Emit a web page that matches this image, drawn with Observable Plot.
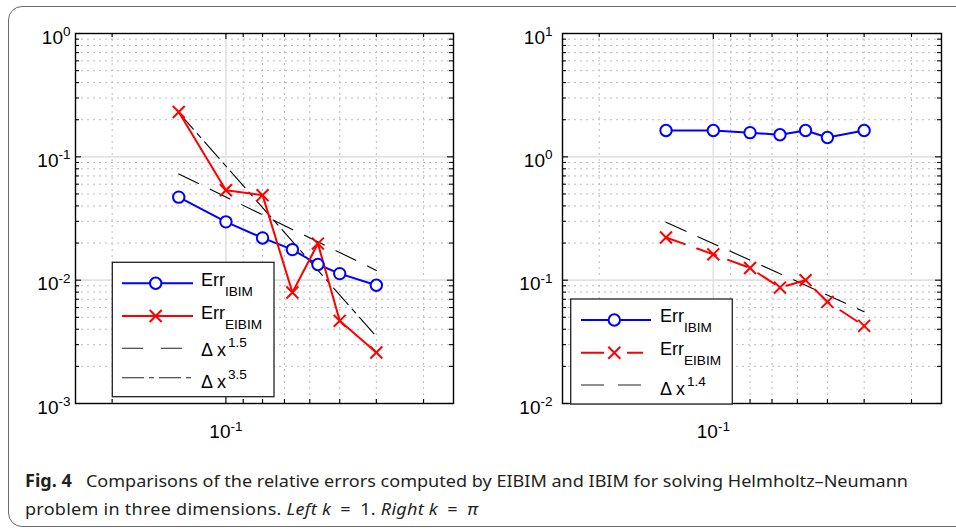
<!DOCTYPE html>
<html><head><meta charset="utf-8">
<script src="https://cdn.jsdelivr.net/npm/d3@7"></script>
<script src="https://cdn.jsdelivr.net/npm/@observablehq/plot@0.6"></script>
<style>
html,body{margin:0;padding:0;background:#fff;}
#page{position:relative;width:956px;height:529px;overflow:hidden;background:#fff;}
.panel{position:absolute;top:0;}
#card{position:absolute;left:8px;top:6px;width:1000px;height:521px;border:1.5px solid #6a6a6a;border-radius:14px;box-sizing:border-box;pointer-events:none;}
#caption{position:absolute;left:25px;top:467px;font-family:"Noto Sans",sans-serif;font-size:17px;line-height:28px;color:#231f20;white-space:nowrap;transform-origin:0 0;}
#caption .ln{display:inline-block;}
</style></head>
<body><div id="page">
<div id="left" class="panel" style="left:0px"></div>
<div id="right" class="panel" style="left:480px"></div>
<div id="caption"><span class="ln" id="l1"><b>Fig. 4</b>&nbsp;&nbsp; Comparisons of the relative errors computed by EIBIM and IBIM for solving Helmholtz–Neumann</span><br><span class="ln" id="l2">problem in three dimensions. <i>Left k</i>&ensp;=&ensp;1. <i>Right k</i>&ensp;=&ensp;<i>π</i></span></div>
<div id="card"></div>
</div>
<script>
// ---- data ----
const dx = [0.1333, 0.1, 0.08, 0.0667, 0.0571, 0.05, 0.04];
const errIBIM_k1  = [0.0471, 0.0297, 0.0220, 0.0177, 0.0134, 0.0113, 0.0091];
const errEIBIM_k1 = [0.231, 0.0536, 0.0489, 0.00794, 0.0198, 0.00468, 0.00259];
const errIBIM_kpi  = [1.634, 1.634, 1.57, 1.51, 1.634, 1.436, 1.634];
const errEIBIM_kpi = [0.222, 0.162, 0.1256, 0.0871, 0.100, 0.0667, 0.0426];
const ref15_x = [0.1333, 0.04], ref15_y = [0.0727, 0.0120];
const ref35_x = [0.1333, 0.04], ref35_y = [0.228, 0.0035];
const ref14_x = [0.1333, 0.04], ref14_y = [0.295, 0.0555];
const xDomain = [0.25, 0.025];
const xMajor = [0.1];
const xMinor = [0.2, 0.09, 0.08, 0.07, 0.06, 0.05, 0.04, 0.03];
const yLeftDomain = [1e-3, 1], yLeftMajor = [1e-3, 1e-2, 1e-1, 1];
const yRightDomain = [1e-2, 10], yRightMajor = [1e-2, 1e-1, 1, 10];
const minorMult = [2, 3, 4, 5, 6, 7, 8, 9];

const FONT = "'Liberation Sans', Arial, Helvetica, sans-serif";
const H = 370;
const BLUE = "#0000ff", RED = "#ff0000";

function minorOf(major) {
  const out = [];
  for (const m of major.slice(0, -1)) for (const k of minorMult) out.push(m * k);
  return out;
}
const sup = d => "10^" + Math.round(Math.log10(d));

function makePanel({width, marginLeft, marginRight, yDomain, yMajor, ibim, eibim, refs, redDash, yPad}) {
  const W = width - marginLeft - marginRight;
  const yMinor = minorOf(yMajor);
  const yInner = yMajor.slice(1, -1);
  const rows = dx.map((x, i) => ({x, ibim: ibim[i], eibim: eibim[i]}));
  const marks = [
    Plot.ruleY(yMinor, {y: d => d, stroke: "#bcbcbc", strokeDasharray: "2,4", strokeWidth: 1}),
    Plot.ruleX(xMinor, {x: d => d, stroke: "#bcbcbc", strokeDasharray: "2,4", strokeWidth: 1}),
    Plot.ruleY(yInner, {y: d => d, stroke: "#e2e2e2", strokeWidth: 1.6}),
    Plot.ruleX(xMajor, {x: d => d, stroke: "#e2e2e2", strokeWidth: 1.6}),
    // inner tick marks on all four sides
    Plot.tickX(xMinor, {x: d => d, insetTop: H - 4, stroke: "black", strokeWidth: 1.1}),
    Plot.tickX(xMinor, {x: d => d, insetBottom: H - 4, stroke: "black", strokeWidth: 1.1}),
    Plot.tickX(xMajor, {x: d => d, insetTop: H - 6, stroke: "black", strokeWidth: 1.1}),
    Plot.tickX(xMajor, {x: d => d, insetBottom: H - 6, stroke: "black", strokeWidth: 1.1}),
    Plot.tickY(yMinor, {y: d => d, insetRight: W - 4, stroke: "black", strokeWidth: 1.1}),
    Plot.tickY(yMinor, {y: d => d, insetLeft: W - 4, stroke: "black", strokeWidth: 1.1}),
    Plot.tickY(yMajor, {y: d => d, insetRight: W - 6, stroke: "black", strokeWidth: 1.1}),
    Plot.tickY(yMajor, {y: d => d, insetLeft: W - 6, stroke: "black", strokeWidth: 1.1}),
  ];
  for (const r of refs) {
    const pts = r.x.map((x, i) => ({x, y: r.y[i]}));
    marks.push(Plot.line(pts, {x: "x", y: "y", stroke: "black", strokeWidth: 1.1, strokeDasharray: r.dash}));
  }
  marks.push(
    Plot.line(rows, {x: "x", y: "ibim", stroke: BLUE, strokeWidth: 2}),
    Plot.line(rows, {x: "x", y: "eibim", stroke: RED, strokeWidth: 2, strokeDasharray: redDash}),
    Plot.dot(rows, {x: "x", y: "ibim", r: 5.7, stroke: BLUE, fill: "white", strokeWidth: 2}),
    Plot.dot(rows, {x: "x", y: "eibim", r: 5.5, symbol: "times", stroke: RED, strokeWidth: 2}),
    Plot.axisY({anchor: "left", ticks: yMajor, tickSize: 0, tickPadding: yPad, tickFormat: sup, fontSize: 19, dy: 4, label: null}),
    Plot.axisX({anchor: "bottom", ticks: xMajor, tickSize: 0, tickPadding: 21, tickFormat: sup, fontSize: 19, label: null}),
    Plot.frame({stroke: "black", strokeWidth: 1.4})
  );
  const svg = Plot.plot({
    width, height: 450, marginLeft, marginRight, marginTop: 33, marginBottom: 47,
    style: {background: "transparent", fontFamily: FONT, color: "black", overflow: "visible"},
    x: {type: "log", domain: xDomain, axis: null},
    y: {type: "log", domain: yDomain, axis: null},
    marks
  });
  // superscript exponents in tick labels
  d3.select(svg).selectAll('g[aria-label$="tick label"] text').each(function () {
    const [base, exp] = this.textContent.split("^");
    const s = d3.select(this).attr("font-size", 19).attr("font-family", FONT).attr("fill", "black");
    s.text(null);
    s.append("tspan").text(base);
    s.append("tspan").attr("dy", -7.5).attr("font-size", 13.5).text(exp);
  });
  return svg;
}

function legend(svg, box, items) {
  const g = d3.select(svg).append("g").attr("font-family", FONT).attr("fill", "black").attr("text-anchor", "start");
  g.append("rect").attr("x", box.x).attr("y", box.y).attr("width", box.w).attr("height", box.h)
    .attr("fill", "white").attr("stroke", "#222").attr("stroke-width", 1.3);
  for (const it of items) {
    g.append("line").attr("x1", it.x1).attr("x2", it.x2).attr("y1", it.y).attr("y2", it.y)
      .attr("stroke", it.color).attr("stroke-width", it.sw).attr("stroke-dasharray", it.dash || null);
    if (it.marker === "o") {
      g.append("circle").attr("cx", it.mx).attr("cy", it.y).attr("r", 5.7).attr("fill", "white")
        .attr("stroke", it.color).attr("stroke-width", 2);
    } else if (it.marker === "x") {
      g.append("path").attr("d", `M${it.mx - 6},${it.y - 6}L${it.mx + 6},${it.y + 6}M${it.mx - 6},${it.y + 6}L${it.mx + 6},${it.y - 6}`)
        .attr("stroke", it.color).attr("stroke-width", 2);
    }
    const t = g.append("text").attr("x", it.tx).attr("y", it.y + it.base).attr("font-size", 18).attr("text-anchor", "start");
    t.append("tspan").text(it.main);
    if (it.sub) t.append("tspan").attr("dy", 10).attr("font-size", 13.6).text(it.sub);
    if (it.sup) t.append("tspan").attr("dx", 2).attr("dy", -9).attr("font-size", 13.6).text(it.sup);
  }
}

const leftSvg = makePanel({
  width: 478, marginLeft: 75, marginRight: 25, yDomain: yLeftDomain, yMajor: yLeftMajor,
  ibim: errIBIM_k1, eibim: errEIBIM_k1, redDash: null, yPad: 5,
  refs: [{x: ref15_x, y: ref15_y, dash: "22,13"}, {x: ref35_x, y: ref35_y, dash: "22,6,5,6"}]
});
legend(leftSvg, {x: 112.3, y: 262.3, w: 161.7, h: 134.4}, [
  {y: 283.3, x1: 122, x2: 193, mx: 155.7, color: BLUE, sw: 2, marker: "o", tx: 201, base: 3, main: "Err", sub: "IBIM"},
  {y: 316, x1: 122, x2: 193, mx: 155.7, color: RED, sw: 2, marker: "x", tx: 201, base: 3, main: "Err", sub: "EIBIM"},
  {y: 348.3, x1: 122, x2: 183, color: "#222", sw: 1.1, dash: "21,18", tx: 201, base: 8, main: "Δ x", sup: "1.5"},
  {y: 377.7, x1: 122, x2: 191, color: "#222", sw: 1.1, dash: "22,5,5,5", tx: 201, base: 10, main: "Δ x", sup: "3.5"}
]);
document.getElementById("left").appendChild(leftSvg);

const rightSvg = makePanel({
  width: 476, marginLeft: 82, marginRight: 15, yDomain: yRightDomain, yMajor: yRightMajor,
  ibim: errIBIM_kpi, eibim: errEIBIM_kpi, redDash: "20,13", yPad: 10,
  refs: [{x: ref14_x, y: ref14_y, dash: "22,13"}]
});
legend(rightSvg, {x: 90.7, y: 299, w: 161.6, h: 105}, [
  {y: 320, x1: 101, x2: 171, mx: 134.3, color: BLUE, sw: 2, marker: "o", tx: 180, base: 2, main: "Err", sub: "IBIM"},
  {y: 352.7, x1: 101, x2: 163, mx: 134.3, color: RED, sw: 2, marker: "x", dash: "23,23", tx: 180, base: 2, main: "Err", sub: "EIBIM"},
  {y: 385, x1: 101, x2: 162, color: "#222", sw: 1.1, dash: "23,14", tx: 180, base: 10, main: "Δ x", sup: "1.4"}
]);
document.getElementById("right").appendChild(rightSvg);

// fit caption lines to the reference widths (condensed face)
const cap = document.getElementById("caption");
const l2 = document.getElementById("l2");
const w1 = document.getElementById("l1").getBoundingClientRect().width;
const s = 883 / w1;
const w2 = l2.getBoundingClientRect().width;
const target2 = 453 / s;
l2.style.letterSpacing = Math.max(0, (target2 - w2) / l2.textContent.length) + "px";
cap.style.transform = `scaleX(${s})`;
</script>
</body></html>
